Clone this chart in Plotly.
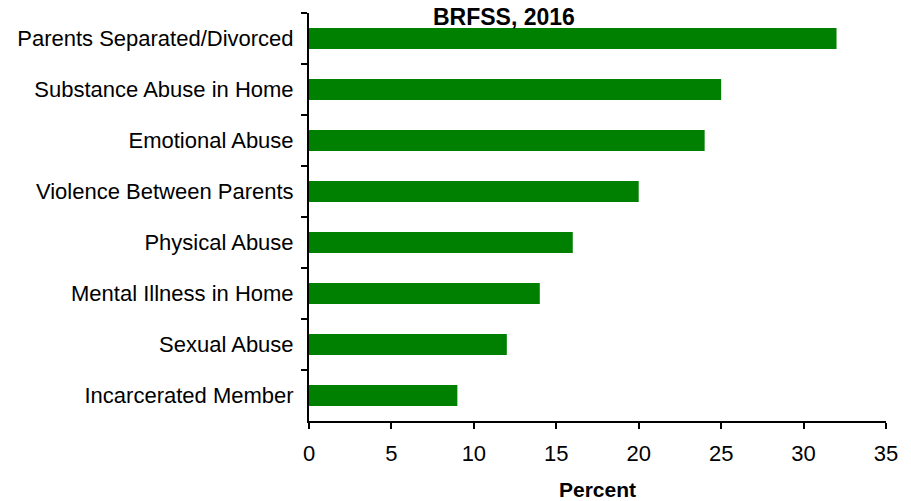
import plotly.graph_objects as go

categories = [
    "Parents Separated/Divorced",
    "Substance Abuse in Home",
    "Emotional Abuse",
    "Violence Between Parents",
    "Physical Abuse",
    "Mental Illness in Home",
    "Sexual Abuse",
    "Incarcerated Member",
]
percent = [32, 25, 24, 20, 16, 14, 12, 9]
x_ticks = [0, 5, 10, 15, 20, 25, 30, 35]

FONT = "Liberation Sans, Arial, sans-serif"

fig = go.Figure(
    go.Bar(
        x=percent,
        y=categories,
        orientation="h",
        marker=dict(color="#008000", line=dict(width=0)),
        hoverinfo="skip",
    )
)

# the page body adds an 8px offset, so margins are compensated
fig.update_layout(
    width=911,
    height=501,
    margin=dict(l=301, r=33, t=5, b=88, autoexpand=False),
    paper_bgcolor="white",
    plot_bgcolor="white",
    bargap=0.59,
    showlegend=False,
    font=dict(family=FONT, size=22, color="black"),
)

fig.update_xaxes(
    range=[0, 35],
    tickvals=x_ticks,
    ticktext=[str(v) for v in x_ticks],
    showgrid=False,
    zeroline=False,
    showline=True,
    linecolor="black",
    linewidth=2,
    ticks="outside",
    ticklen=6,
    tickwidth=2,
    tickcolor="black",
    ticklabelstandoff=6,
    automargin=False,
    tickfont=dict(family=FONT, size=22, color="black"),
    title=dict(text="Percent", font=dict(family=FONT, size=21, color="black", weight="bold"), standoff=17),
)

fig.update_yaxes(
    categoryorder="array",
    categoryarray=categories,
    autorange="reversed",
    showgrid=False,
    zeroline=False,
    showline=True,
    linecolor="black",
    linewidth=2,
    ticks="outside",
    tickson="boundaries",
    ticklen=6,
    tickwidth=2,
    tickcolor="black",
    ticklabelstandoff=9,
    automargin=False,
    tickfont=dict(family=FONT, size=22, color="black"),
)

fig.add_annotation(
    text="BRFSS, 2016",
    xref="paper",
    yref="paper",
    x=0.338,
    y=1,
    xanchor="center",
    yanchor="middle",
    yshift=-4,
    showarrow=False,
    font=dict(family=FONT, size=23, color="black", weight="bold"),
)

fig.write_html("out.html")
